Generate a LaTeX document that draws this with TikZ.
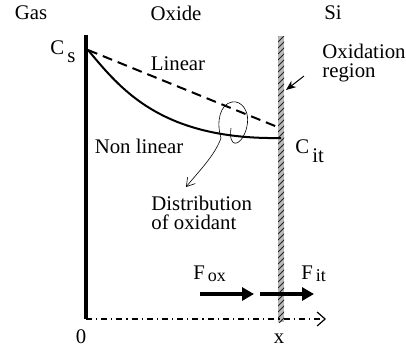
\documentclass[tikz,border=0pt]{standalone}
\usepackage{fontspec}
\setmainfont{Liberation Serif}
\usetikzlibrary{arrows.meta,positioning,patterns}
\newcommand{\lowsub}[2][3pt]{\kern1.5pt\raisebox{-#1}{#2}}

\begin{document}
\begin{tikzpicture}[x=0.5pt,y=-0.5pt,font=\fontsize{10.4}{9.5}\selectfont,
    lbl/.style={inner sep=0pt},
    flux/.style={line width=2pt,-{Triangle[length=6pt,width=6.5pt]}}]
  \useasboundingbox (0,0) rectangle (406,350);
  % regions
  \node[lbl] (gas) at (31,13) {Gas};
  \node[lbl] (oxide) at (176,13) {Oxide};
  \node[lbl] (si) at (333,13) {Si};
  % interface layer and axes
  \fill[gray!55] (278,36) rectangle (284,322);
  \fill[pattern=north east lines,pattern color=black!85] (278,36) rectangle (284,322);
  \coordinate (top) at (86,35);
  \coordinate (orig) at (86,319);
  \coordinate (xend) at (326,319);
  \draw[line width=2pt] (top) -- (orig);
  \draw[line width=0.6pt,dash dot,-{Straight Barb[length=4pt,width=7pt]}] (orig) -- (xend);
  \node[lbl,anchor=base] (zero) at (81,343) {0};
  \node[lbl,anchor=base] (xpos) at (279,343) {x};
  % concentration profiles
  \coordinate (cs) at (88,50);
  \coordinate (citl) at (280,128);
  \coordinate (cit) at (281,138);
  \draw[line width=1pt,dashed,dash pattern=on 5pt off 3pt] (cs) -- (citl);
  \draw[line width=1pt] (cs) .. controls (120,88) and (160,140) .. (cit);
  \node[lbl,anchor=base west] (Cs) at (50,54) {C\lowsub[4pt]{s}};
  \node[lbl,anchor=base west] (Cit) at (295,153) {C\lowsub[4.5pt]{it}};
  \node[lbl] (lin) at (178,64) {Linear};
  \node[lbl] (nonlin) at (139,146) {Non linear};
  % oxidation region
  \node[lbl,anchor=north west,align=left] (oxreg) at (322,44) {Oxidation\\region};
  \coordinate (oxtail) at (304,76);
  \coordinate (oxtip) at (286,90);
  \draw[line width=0.5pt,-{Stealth[length=5pt,width=4pt]}] (oxtail) -- (oxtip);
  % distribution of oxidant
  \node[lbl,anchor=north west,align=left] (dist) at (151,196) {Distribution\\of oxidant};
  \coordinate (loop) at (231,128);
  \coordinate (disttip) at (186,187);
  \draw[line width=0.3pt,-{Straight Barb[length=4pt,width=5pt]}] (loop)
    .. controls (228,148) and (240,148) .. (246,130)
    .. controls (252,110) and (240,100) .. (232,102)
    .. controls (220,104) and (216,122) .. (221,138)
    .. controls (215,155) and (200,170) .. (disttip);
  % fluxes
  \coordinate (fa) at (200,294);
  \coordinate (fb) at (254,294);
  \coordinate (fc) at (260,294);
  \coordinate (fd) at (314,294);
  \draw[flux] (fa) -- (fb);
  \draw[flux] (fc) -- (fd);
  \node[lbl,anchor=base west] (Fox) at (193,279) {F\lowsub[1pt]{\fontsize{9}{9}\selectfont ox}};
  \node[lbl,anchor=base west] (Fit) at (301,279) {F\lowsub[1pt]{\fontsize{9}{9}\selectfont it}};
\end{tikzpicture}
\end{document}
